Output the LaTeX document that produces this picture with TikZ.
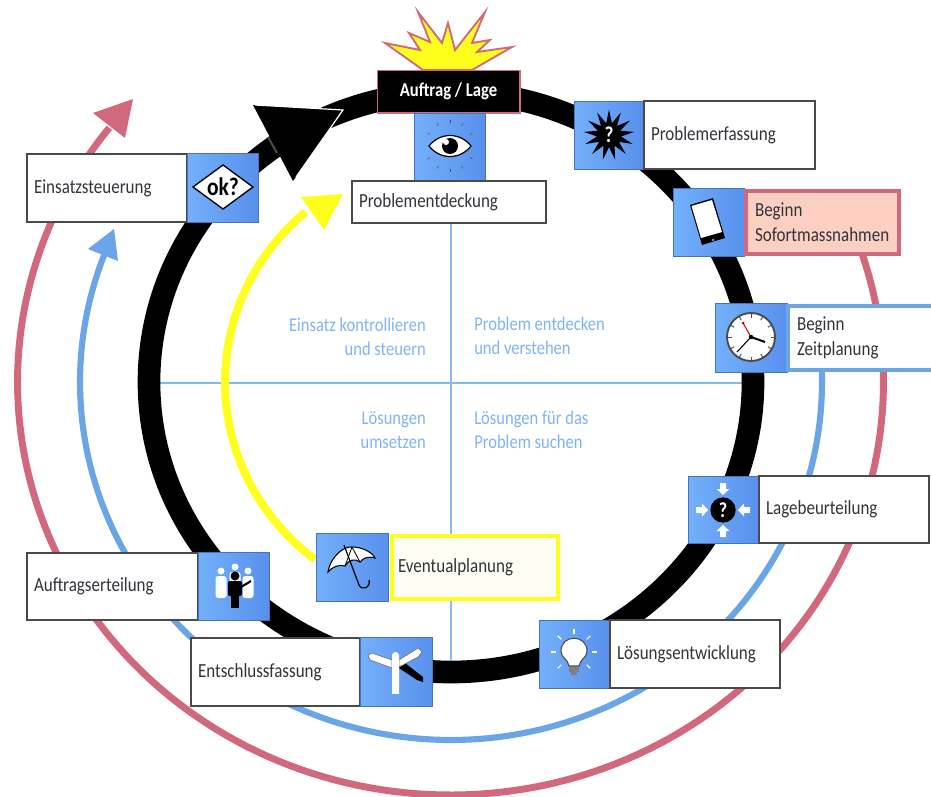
\documentclass[tikz,border=0pt]{standalone}
\usepackage{fontspec}
\setmainfont[FakeStretch=0.85]{Carlito}
\usetikzlibrary{shapes.geometric}
\definecolor{ringpink}{HTML}{D2687C}
\definecolor{ringblue}{HTML}{6AA5E8}
\definecolor{crossblue}{HTML}{7CBCEE}
\definecolor{crossblueV}{HTML}{8CB8F6}
\definecolor{txtblue}{HTML}{7FB4F4}
\definecolor{ylw}{HTML}{FFFF1E}
\definecolor{lbl}{HTML}{33333B}
\definecolor{edge}{HTML}{4A4A4A}
\definecolor{iconL}{HTML}{74B0FA}
\definecolor{iconR}{HTML}{5890EC}
\definecolor{softpink}{HTML}{FBD0C2}
\newdimen\px \px=0.75pt
\newcommand{\iconbox}[5]{% name x1 y1 x2 y2
  \pgfmathsetmacro\bw{(#4-#2)*0.75}\pgfmathsetmacro\bh{(#5-#3)*0.75}
  \node[iconbox,minimum width=\bw pt,minimum height=\bh pt] (#1) at ({(#2+#4)/2},{(#3+#5)/2}) {};}
\newcommand{\labelbox}[7]{% name x1 y1 x2 y2 style text
  \pgfmathsetmacro\bw{(#4-#2)*0.75-10.5}\pgfmathsetmacro\bh{(#5-#3)*0.75}
  \node[labelstyle,#6,text width=\bw pt,minimum height=\bh pt] (#1) at ({(#2+#4)/2},{(#3+#5)/2}) {#7};}
\tikzset{
  iconbox/.style={rectangle,inner sep=0pt,left color=iconL,right color=iconR,draw=iconR!80!black,line width=0.6pt},
  labelstyle/.style={rectangle,draw=edge,line width=1pt,fill=white,text=lbl,align=left,inner xsep=5.25pt,inner ysep=0pt,font=\fontsize{15}{18.5}\selectfont},
  quad/.style={text=txtblue,font=\fontsize{14.6}{18}\selectfont,inner sep=0pt},
  ringline/.style={line cap=butt,line join=round}
}
\begin{document}
\begin{tikzpicture}[x=0.75pt,y=-0.75pt]
\useasboundingbox (0,0) rectangle (931,796);
\coordinate (c) at (451,382);
% cross
\draw[crossblueV,line width=1.2pt] (451,223) coordinate (vt) -- (451,660) coordinate (vb);
\draw[crossblue,line width=1.1pt] (159,383) coordinate (hl) -- (743,383) coordinate (hr);
% outer rings
\draw[ringpink,line width=5.2pt,ringline] plot[domain=-18:218,samples=150] ({450.5+433*cos(\x)},{382+413*sin(\x)});
\fill[ringpink] (133,99) coordinate (pinktip) -- (93,113) -- (125,138) -- cycle;
\draw[ringblue,line width=4.6pt,ringline] plot[domain=-2:202,samples=150] ({451+371*cos(\x)},{382+358*sin(\x)});
\fill[ringblue] (114,229) coordinate (bluetip) -- (88,249) -- (118,261) -- cycle;
% black ring
\draw[black,line width=17pt] (c) ellipse[x radius=302,y radius=290];
\fill[black] (253,105) coordinate (blacktip) -- (343,110) -- (293,181) -- cycle;
\draw[white,line width=0.9pt] (255,105) -- (343,110) -- (296,177);
\draw[black!70,line width=1.5pt] (268,137) -- (277,153);
% yellow
\draw[ylw,line width=6pt,ringline] plot[domain=127:230,samples=80] ({451+226*cos(\x)},{382+222*sin(\x)});
\fill[ylw] (343,194) coordinate (yellowtip) -- (301,197) -- (324,230) -- cycle;
% burst
\draw[ringpink,fill=ylw,line width=1.4pt,line join=miter]
 (423,70) -- (385,43) -- (420,50) -- (409,33) -- (430,42) -- (418,12) -- (442,43) -- (448,23)
 -- (455,50) -- (485,12) -- (472,43) -- (490,40) -- (477,52) -- (512,47) -- (472,70) -- cycle;
% Auftrag / Lage
\node[rectangle,draw=ringpink,line width=1pt,fill=black,text=white,minimum width=107pt,minimum height=32pt,inner sep=0pt,font=\fontsize{14.7}{18}\selectfont\bfseries] (auftrag) at (448.5,91.5) {Auftrag / Lage};
% Problementdeckung
\iconbox{eye}{414}{113}{485}{181}
\labelbox{pd}{352}{181}{546}{223}{}{Problementdeckung}
\draw[black,line width=0.9pt,fill=white] (429,146) .. controls (440,132) and (460,132) .. (471,146) .. controls (460,160) and (440,160) .. (429,146) -- cycle;
\fill[black] (450,146) circle[radius=8];
\fill[white] (446,142) circle[radius=3];
\foreach \a in {-150,-120,-90,-60,-30,30,60,90,120,150}
  \draw[black!70,line width=0.4pt] (450,146) ++(\a:23) -- ++(\a:3);
% Problemerfassung
\iconbox{pe}{574}{101}{643}{169}
\labelbox{pe2}{644}{101}{815}{169}{}{Problemerfassung}
\node[star,star points=13,star point ratio=2.1,fill=black,minimum size=38pt,inner sep=0pt,text=white,font=\bfseries\fontsize{17}{17}\selectfont] (peicon) at (609,135) {?};
% Sofort
\iconbox{so}{673}{188}{744}{256}
\labelbox{so2}{748}{191}{897}{254}{draw=ringpink,line width=3.6pt,fill=softpink,inner xsep=6.75pt}{Beginn\\Sofortmassnahmen}
\fill[black] (690,205) -- (713,198) -- (725,238) -- (702,245) -- cycle;
\fill[white] (691.5,206) -- (712,200) -- (722,232) -- (701,238) -- cycle;
\fill[black!45] (713,240) circle[radius=1.5];
% Zeit
\iconbox{ze}{715}{303}{787}{372}
\labelbox{ze2}{790}{306}{945}{370}{draw=ringblue,line width=3pt,inner xsep=6.75pt}{Beginn\\Zeitplanung}
\draw[edge,line width=1.4pt,fill=white] (751,337) circle[radius=24];
\foreach \a in {0,30,...,330}
  \draw[black!70,line width=0.7pt] (751,337) ++(\a:23) -- ++(\a:-3.5);
\draw[black,line width=1.5pt] (751,337) -- (765,342);
\draw[black,line width=0.8pt] (751,337) -- (737,352);
\draw[red!75!black,line width=0.7pt] (751,337) -- (743,323);
\fill[red!75!black] (743,323) circle[radius=1.5] (751,337) circle[radius=1.5];
\fill[black] (751,337) circle[radius=2.2];
% Lagebeurteilung
\iconbox{la}{688}{476}{759}{543}
\labelbox{la2}{759}{476}{929}{543}{}{Lagebeurteilung}
\node[circle,fill=black,text=white,minimum size=19pt,inner sep=0pt,font=\bfseries\fontsize{16}{16}\selectfont] (laicon) at (723,510) {?};
\foreach \a in {0,90,180,270}
  \fill[white,shift={(723,510)},rotate=\a] (27,-3) -- (21,-3) -- (21,-6.5) -- (15,0) -- (21,6.5) -- (21,3) -- (27,3) -- cycle;
% Loesungsentwicklung
\iconbox{lo}{539}{620}{610}{688}
\labelbox{lo2}{610}{620}{780}{688}{}{Lösungsentwicklung}
\draw[edge,line width=0.8pt,fill=white] (569,666) .. controls (568,659) and (561,658) .. (561,651) .. controls (561,634) and (587,634) .. (587,651) .. controls (587,658) and (580,659) .. (579,666) -- cycle;
\fill[gray] (569,667) rectangle (579,672);
\fill[gray] (571,672) rectangle (577,675);
\foreach \a in {-180,-135,-90,-45,0,45,135}
  \draw[white,line width=0.8pt] (574,652) ++(\a:18) -- ++(\a:5);
% Eventualplanung
\iconbox{ev}{316}{533}{388}{601}
\labelbox{ev2}{391}{536}{559}{599}{draw=ylw,line width=3.6pt,fill=yellow!4!white,inner xsep=4.5pt}{Eventualplanung}
\draw[black,line width=0.8pt,fill=white] (328,572) .. controls (331,555) and (345,546) .. (352,547) .. controls (362,547) and (372,552) .. (375,558) .. controls (368,556) and (363,558) .. (360,562) .. controls (355,558) and (348,560) .. (345,566) .. controls (339,564) and (332,567) .. (328,572) -- cycle;
\draw[black,line width=0.6pt] (352,547) -- (345,566) (352,547) -- (360,562);
\draw[black,line width=0.9pt] (344,545) -- (359,585) .. controls (362,591) and (371,588) .. (369,580);
% Auftragserteilung
\labelbox{ae2}{27}{553}{198}{620}{}{Auftragserteilung}
\iconbox{ae}{198}{552}{269}{620}
\foreach \hx/\hy in {221/571,235/567,248/571}{
  \fill[white] (\hx,\hy) circle[radius=3.5];
  \fill[white,rounded corners=2pt] (\hx-5.5,\hy+5) rectangle (\hx+5.5,\hy+27);
}
\fill[black] (235,576) circle[radius=4.5];
\fill[black,rounded corners=1.5pt] (228,581) rectangle (242,596);
\fill[black] (231,595) rectangle (239,608);
\draw[black,line width=1.6pt] (241,587) -- (251,581);
% Entschlussfassung
\labelbox{en2}{191}{638}{360}{706}{}{Entschlussfassung}
\iconbox{en}{360}{637}{432}{706}
\fill[black] (399,665) -- (405,663) -- (423,677) -- (423,682) -- (417,680) -- (399,668) -- cycle;
\draw[black!55,line width=0.5pt,fill=white,line join=round] (368,655) -- (372,653) -- (392,660) -- (392,668) -- (370,660) -- cycle;
\draw[black!55,line width=0.5pt,fill=white,line join=round] (399,660) -- (418,648) -- (422,652) -- (418,657) -- (399,667) -- cycle;
\fill[white,rounded corners=2.5pt] (392,652) rectangle (399,700);
\fill[iconR!50!iconL] (390,694) rectangle (401,700);
% Einsatzsteuerung
\labelbox{ei2}{27}{154}{187}{222}{}{Einsatzsteuerung}
\iconbox{ei}{187}{153}{258}{222}
\draw[black,line width=1pt,fill=white] (193,187) -- (223,165) -- (253,187) -- (223,209) -- cycle;
\node[inner sep=0pt,font=\bfseries\fontsize{19}{19}\selectfont] (oktext) at (223,187) {ok?};
% quadrant text
\node[quad,anchor=east,align=right] (q1) at (426,337) {Einsatz kontrollieren\\und steuern};
\node[quad,anchor=west,align=left] (q2) at (474,336) {Problem entdecken\\und verstehen};
\node[quad,anchor=east,align=right] (q3) at (426,430) {Lösungen\\umsetzen};
\node[quad,anchor=west,align=left] (q4) at (474,430) {Lösungen für das\\Problem suchen};
\end{tikzpicture}
\end{document}
